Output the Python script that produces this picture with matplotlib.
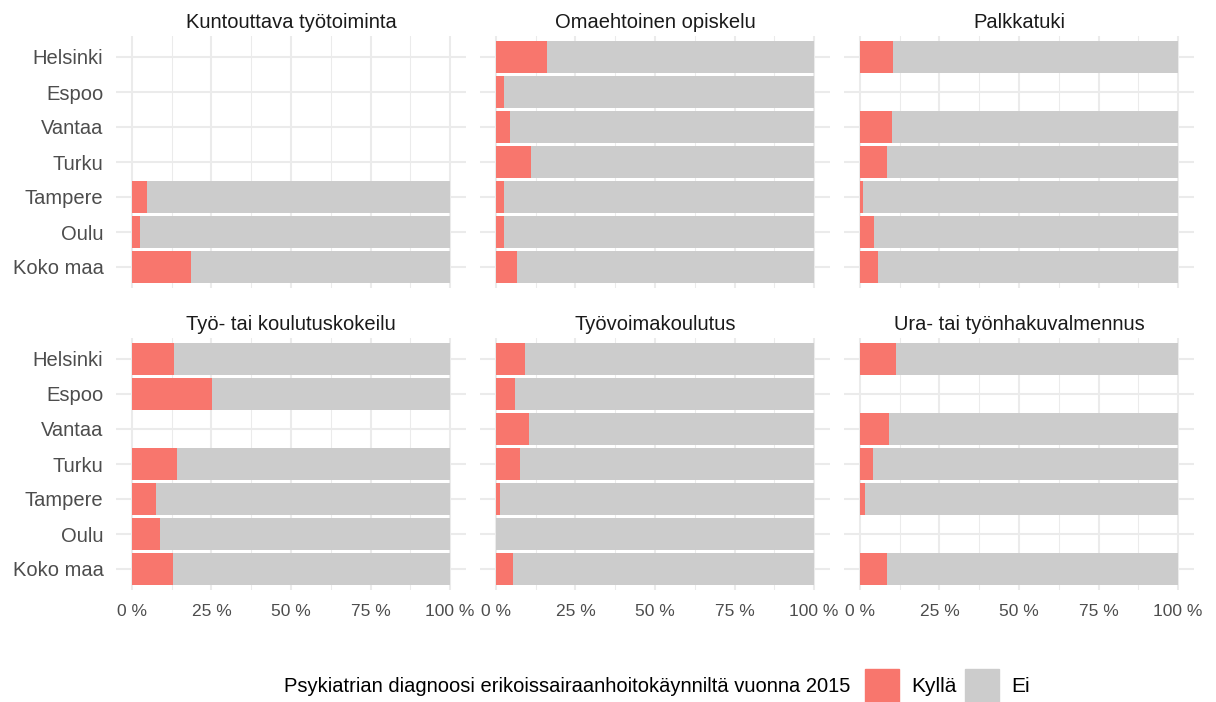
import matplotlib.pyplot as plt
import numpy as np
from matplotlib.patches import Rectangle

plt.rcParams['font.family'] = ['Liberation Sans', 'DejaVu Sans']

# Kunnat ylhäältä alas
kunnat = ['Helsinki', 'Espoo', 'Vantaa', 'Turku', 'Tampere', 'Oulu', 'Koko maa']

palvelut = ['Kuntouttava työtoiminta', 'Omaehtoinen opiskelu', 'Palkkatuki',
            'Työ- tai koulutuskokeilu', 'Työvoimakoulutus',
            'Ura- tai työnhakuvalmennus']

# Kyllä-osuus (%) kunnittain; None = ei tietoa
kuntouttava = [None, None, None, None, 4.7, 2.4, 18.5]
omaehtoinen = [16.0, 2.4, 4.5, 10.9, 2.6, 2.6, 6.7]
palkkatuki = [10.4, None, 10.2, 8.4, 1.0, 4.5, 5.8]
kokeilu = [13.1, 25.1, None, 14.3, 7.5, 8.7, 12.8]
koulutus = [9.1, 6.1, 10.3, 7.7, 1.4, 0.0, 5.5]
valmennus = [11.2, None, 9.1, 4.1, 1.5, None, 8.5]

osuudet = [kuntouttava, omaehtoinen, palkkatuki, kokeilu, koulutus, valmennus]

x_ticks = [0, 25, 50, 75, 100]
x_labels = ['0 %', '25 %', '50 %', '75 %', '100 %']
legend_title = 'Psykiatrian diagnoosi erikoissairaanhoitokäynniltä vuonna 2015'
legend_labels = ['Kyllä', 'Ei']

RED = '#F8766D'
GREY = '#CCCCCC'
GRID = '#EBEBEB'

W, H = 1216, 702
fig = plt.figure(figsize=(W / 100, H / 100), dpi=100)

col_x = [116, 480, 844]
row_y = [36, 338]
pw, ph = 350, 252

y = np.arange(len(kunnat))
for i, (nimi, arvot) in enumerate(zip(palvelut, osuudet)):
    r, c = divmod(i, 3)
    ax = fig.add_axes([col_x[c] / W, 1 - (row_y[r] + ph) / H, pw / W, ph / H])
    ax.set_xlim(-5, 105)
    ax.set_ylim(len(kunnat) - 0.4, -0.6)
    for s in ax.spines.values():
        s.set_visible(False)
    # minor and major grid lines
    for xm in [12.5, 37.5, 62.5, 87.5]:
        ax.axvline(xm, color=GRID, lw=0.75, zorder=0)
    for xv in x_ticks:
        ax.axvline(xv, color=GRID, lw=1.5, zorder=0)
    for yv in y:
        ax.axhline(yv, color=GRID, lw=1.5, zorder=0)

    mask = np.array([v is not None for v in arvot])
    kylla = np.array([v if v is not None else 0 for v in arvot], dtype=float)
    ax.barh(y[mask], kylla[mask], height=0.9, color=RED, zorder=2)
    ax.barh(y[mask], 100 - kylla[mask], left=kylla[mask], height=0.9,
            color=GREY, zorder=2)

    ax.set_xticks(x_ticks)
    ax.set_yticks(y)
    ax.tick_params(axis='x', length=0, pad=10, labelsize=12.5, colors='#4D4D4D')
    ax.tick_params(axis='y', length=0, pad=9, labelsize=14.5, colors='#4D4D4D')
    if c == 0:
        ax.set_yticklabels(kunnat)
    else:
        ax.set_yticklabels([])
    if r == 1:
        ax.set_xticklabels(x_labels)
    else:
        ax.set_xticklabels([])
    ax.set_title(nimi, fontsize=14.5, color='#1A1A1A', pad=6)

# legend at the bottom
ly = 1 - 686 / H
fig.text(850 / W, ly, legend_title, ha='right', va='center', fontsize=14.5,
         color='black')
for kx, col, lab in [(865, RED, legend_labels[0]), (965, GREY, legend_labels[1])]:
    fig.patches.append(Rectangle((kx / W, 1 - 703 / H), 34 / W, 34 / H,
                                 transform=fig.transFigure, color=col))
    fig.text((kx + 46) / W, ly, lab, ha='left', va='center', fontsize=15,
             color='black')

fig.savefig('out.png', dpi=100, facecolor='white')
